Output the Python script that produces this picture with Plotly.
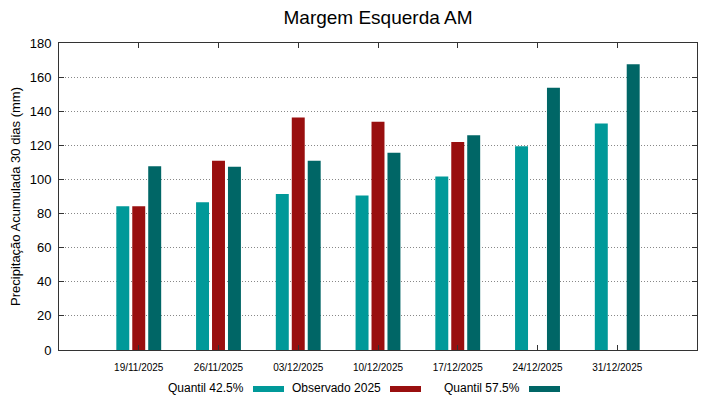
import plotly.graph_objects as go

categories = ["19/11/2025", "26/11/2025", "03/12/2025", "10/12/2025",
              "17/12/2025", "24/12/2025", "31/12/2025"]
quantil_425 = [84.3, 86.7, 91.4, 90.6, 101.7, 119.5, 132.8]
observado_2025 = [84.3, 110.9, 136.3, 133.9, 122.0, None, None]
quantil_575 = [107.8, 107.4, 110.9, 115.6, 125.9, 153.8, 167.5]
series_names = ["Quantil 42.5%", "Observado 2025", "Quantil 57.5%"]
colors = ["#009999", "#990f0f", "#006666"]
y_ticks = [0, 20, 40, 60, 80, 100, 120, 140, 160, 180]

OFF = 8  # page body margin
PW, PH = 719, 399
W, H = PW - OFF, PH - OFF
L, R, T, B = 59, 697, 43, 350  # plot area in page pixels

def px_x(px):
    return (px - L) / (R - L)

def px_y(py):
    return (B - py) / (B - T)

xs = list(range(len(categories)))
fig = go.Figure()
for name, vals, col in zip(series_names, [quantil_425, observado_2025, quantil_575], colors):
    fig.add_trace(go.Bar(x=xs, y=vals, name=name, marker=dict(color=col, line=dict(width=0)),
                         showlegend=False))

font = "Liberation Sans, Arial, sans-serif"
fig.update_layout(
    width=W, height=H,
    margin=dict(l=L - OFF, r=PW - R, t=T - OFF, b=PH - B, autoexpand=False),
    paper_bgcolor="white", plot_bgcolor="white",
    barmode="group", bargap=0.4, bargroupgap=0.1875,
    font=dict(family=font, color="#000"),
    title=dict(text="Margem Esquerda AM", x=(378 - OFF) / W, xanchor="center",
               y=1 - (17 - OFF) / H, yanchor="middle",
               font=dict(size=19, family=font, color="#000")),
    xaxis=dict(range=[-1, 7], tickvals=xs, ticktext=categories, ticks="inside", ticklen=5,
               tickcolor="#333", showline=True, linecolor="#333", linewidth=1, mirror="ticks",
               showgrid=False, zeroline=False, tickfont=dict(size=10, family=font),
               ticklabelstandoff=8, automargin=False),
    yaxis=dict(range=[0, 180], tickvals=y_ticks, ticks="inside", ticklen=5, tickcolor="#333",
               showline=True, linecolor="#333", linewidth=1, mirror="ticks",
               showgrid=True, gridcolor="#888", griddash="1px,2px", gridwidth=1, zeroline=False,
               tickfont=dict(size=13, family=font), ticklabelstandoff=4, automargin=False,
               title=dict(text="Precipitação Acumulada 30 dias (mm)", font=dict(size=13, family=font),
                          standoff=6)),
)

# gnuplot-style legend: text followed by a colour sample
legend_text_right = [246, 383, 522]
for name, col, xr in zip(series_names, colors, legend_text_right):
    fig.add_annotation(x=px_x(xr), y=px_y(388), xref="paper", yref="paper", text=name,
                       showarrow=False, xanchor="right", yanchor="middle",
                       font=dict(size=12, family=font, color="#000"))
    fig.add_shape(type="rect", xref="paper", yref="paper",
                  x0=px_x(xr + 7), x1=px_x(xr + 38), y0=px_y(392), y1=px_y(386),
                  fillcolor=col, line=dict(width=0))

fig.write_html("out.html")
